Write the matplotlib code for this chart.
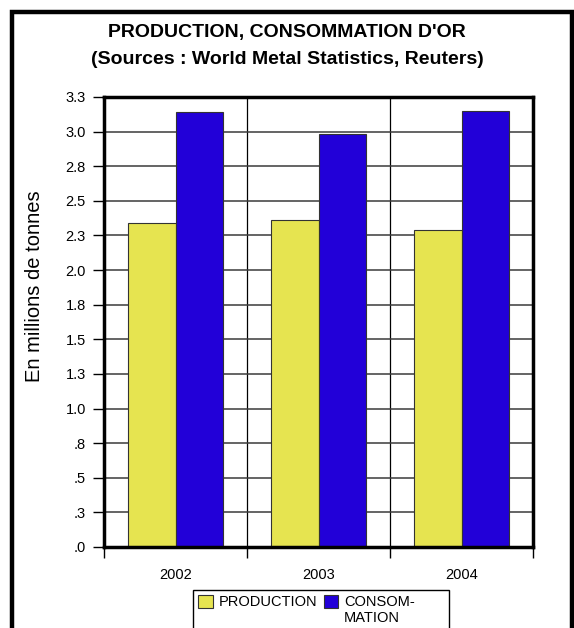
import matplotlib.pyplot as plt
from matplotlib.patches import Rectangle
from matplotlib.ticker import FixedLocator, NullFormatter

plt.rcParams['font.family'] = ['Liberation Sans', 'DejaVu Sans']

# données (millions de tonnes)
annees = ['2002', '2003', '2004']
production = [2.34, 2.36, 2.29]
consommation = [3.14, 2.98, 3.15]
yticks = [0, 0.25, 0.5, 0.75, 1.0, 1.25, 1.5, 1.75, 2.0, 2.25, 2.5, 2.75, 3.0, 3.25]
ytick_labels = ['.0', '.3', '.5', '.8', '1.0', '1.3', '1.5', '1.8', '2.0',
                '2.3', '2.5', '2.8', '3.0', '3.3']

jaune = '#E6E450'
bleu = '#2200D8'

W, H = 574, 628
fig = plt.figure(figsize=(W / 100, H / 100), dpi=100)
ax = fig.add_axes([104 / W, 1 - 547 / H, (533 - 104) / W, (547 - 97) / H])

x = list(range(len(annees)))
larg = 0.33
ax.bar([i - larg / 2 for i in x], production, width=larg, color=jaune,
       edgecolor='#333333', linewidth=0.8, label='PRODUCTION', zorder=3)
ax.bar([i + larg / 2 for i in x], consommation, width=larg, color=bleu,
       edgecolor='#333333', linewidth=0.8, label='CONSOM-\nMATION', zorder=3)

ax.set_xlim(-0.5, len(annees) - 0.5)
ax.set_ylim(0, 3.25)

# axe Y
ax.set_yticks(yticks)
ax.set_yticklabels(ytick_labels)
ax.tick_params(axis='y', direction='out', length=8, width=1, pad=5, labelsize=10.5)
ax.yaxis.grid(True, color='#3a3a3a', linewidth=1.1, zorder=1)

# axe X : traits aux séparations, étiquettes au centre
ax.xaxis.set_major_locator(FixedLocator([-0.5, 0.5, 1.5, 2.5]))
ax.xaxis.set_major_formatter(NullFormatter())
ax.xaxis.set_minor_locator(FixedLocator(x))
ax.set_xticks(x, annees, minor=True)
ax.tick_params(axis='x', which='major', direction='out', length=8, width=1)
ax.tick_params(axis='x', which='minor', length=0, pad=15, labelsize=10.5)
for xv in [0.5, 1.5]:
    ax.axvline(xv, color='black', linewidth=0.9, zorder=1)

for sp in ax.spines.values():
    sp.set_linewidth(2.5)
    sp.set_zorder(4)

fig.text(35 / W, 1 - 286 / H, 'En millions de tonnes', rotation=90,
         ha='center', va='center', fontsize=14.5)

fig.text(0.5, 1 - 33 / H, "PRODUCTION, CONSOMMATION D'OR",
         ha='center', va='center', fontsize=14, fontweight='bold')
fig.text(0.5, 1 - 60 / H, "(Sources : World Metal Statistics, Reuters)",
         ha='center', va='center', fontsize=14, fontweight='bold')

# cadre extérieur
fig.patches.append(Rectangle((12 / W, -0.05), (560) / W, 1.05 - 12 / H,
                             transform=fig.transFigure, fill=False,
                             edgecolor='black', linewidth=3.2))

# légende
fig.patches.append(Rectangle((193 / W, -0.05), (449 - 193) / W, 0.05 + 1 - 590 / H,
                             transform=fig.transFigure, fill=False,
                             edgecolor='black', linewidth=1))
leg = fig.legend(loc='upper left', bbox_to_anchor=(193 / W, 1 - 590 / H), ncol=2,
                 frameon=False, fontsize=10.5, handlelength=1.0, handleheight=1.0,
                 handletextpad=0.4, columnspacing=0.45, borderpad=0.35,
                 borderaxespad=0)
# symboles alignés sur la première ligne du texte
leg._legend_handle_box.align = 'top'
for col in leg._legend_handle_box.get_children():
    for item in col.get_children():
        item.align = 'top'

fig.savefig('out.png', dpi=100)
